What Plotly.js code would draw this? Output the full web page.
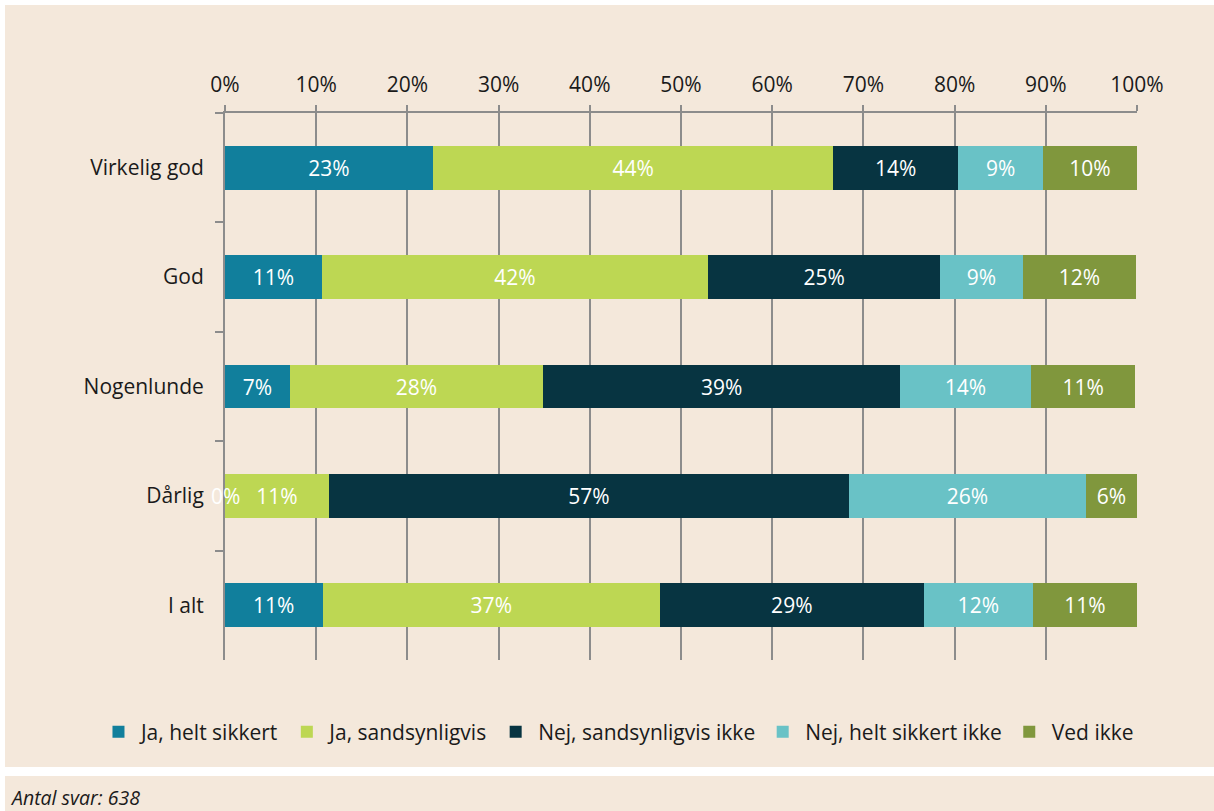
<!DOCTYPE html>
<html>
<head>
<meta charset="utf-8">
<script src="https://cdn.plot.ly/plotly-3.0.1.min.js"></script>
<style>
  html, body { margin: 0; padding: 0; background: #ffffff; }
  #chart { width: 1214px; height: 811px; }
</style>
</head>
<body>
<div id="chart"></div>
<script>
// Categories (top to bottom)
const categories = ["Virkelig god", "God", "Nogenlunde", "Dårlig", "I alt"];

// Series values (percent)
const jaHeltSikkert        = [22.8, 10.6, 7.1, 0.0, 10.7];
const jaSandsynligvis      = [43.9, 42.4, 27.8, 11.4, 37.0];
const nejSandsynligvisIkke = [13.7, 25.4, 39.1, 57.0, 28.9];
const nejHeltSikkertIkke   = [9.3, 9.1, 14.4, 26.0, 12.0];
const vedIkke              = [10.3, 12.4, 11.4, 5.6, 11.4];

const seriesNames = ["Ja, helt sikkert", "Ja, sandsynligvis", "Nej, sandsynligvis ikke", "Nej, helt sikkert ikke", "Ved ikke"];
const seriesValues = [jaHeltSikkert, jaSandsynligvis, nejSandsynligvisIkke, nejHeltSikkertIkke, vedIkke];
const seriesColors = ["#117f9c", "#bdd753", "#073441", "#69c2c6", "#80973d"];

// Tick labels
const xTickVals = [0, 10, 20, 30, 40, 50, 60, 70, 80, 90, 100];
const xTickText = ["0%", "10%", "20%", "30%", "40%", "50%", "60%", "70%", "80%", "90%", "100%"];

const FONT = "'Open Sans', 'Noto Sans', sans-serif";
const FS = 21;

const traces = seriesValues.map((vals, i) => ({
  type: "bar",
  orientation: "h",
  name: seriesNames[i],
  y: categories,
  x: vals,
  text: vals.map(v => Math.round(v) + "%"),
  textposition: "inside",
  insidetextanchor: "middle",
  textangle: 0,
  insidetextfont: { color: "#ffffff", size: FS, family: FONT },
  constraintext: "none",
  hoverinfo: "name+text",
  marker: { color: seriesColors[i], line: { width: 0 } }
}));

// Labels for zero-width segments (drawn at their data position)
const annotations = [];
seriesValues.forEach((vals, i) => {
  vals.forEach((v, j) => {
    if (v === 0) {
      let start = 0;
      for (let k = 0; k < i; k++) start += seriesValues[k][j];
      annotations.push({
        x: start, y: categories[j], xref: "x", yref: "y",
        text: Math.round(v) + "%", showarrow: false,
        font: { color: "#ffffff", size: FS, family: FONT },
        xanchor: "center", yanchor: "middle"
      });
    }
  });
});
annotations.push({
  xref: "paper", yref: "paper", x: 0.0025, y: -0.252,
  xanchor: "left", yanchor: "middle",
  text: "<i>Antal svar: 638</i>", showarrow: false,
  font: { size: 19.5, color: "#1a1a1a", family: FONT }
});

const layout = {
  width: 1214, height: 811,
  paper_bgcolor: "#ffffff",
  plot_bgcolor: "rgba(0,0,0,0)",
  margin: { l: 5, r: 0, t: 113, b: 151, pad: 0, autoexpand: false },
  barmode: "stack",
  bargap: 0.6,
  font: { family: FONT, size: FS, color: "#1a1a1a" },
  showlegend: true,
  legend: {
    orientation: "h",
    x: 0.5066, xanchor: "center",
    y: -0.1316, yanchor: "middle",
    itemwidth: 35,
    font: { size: 21, color: "#1a1a1a", family: FONT },
    traceorder: "normal",
    bgcolor: "rgba(0,0,0,0)"
  },
  xaxis: {
    domain: [0.18197, 0.93631],
    side: "top",
    range: [0, 100],
    tickvals: xTickVals,
    ticktext: xTickText,
    showgrid: true,
    gridcolor: "#8c8c8c",
    gridwidth: 2,
    zeroline: false,
    showline: true,
    linecolor: "#8c8c8c",
    linewidth: 2,
    ticks: "outside",
    ticklen: 6,
    tickwidth: 2,
    tickcolor: "#8c8c8c",
    ticklabelstandoff: 5,
    tickfont: { size: FS, color: "#1a1a1a", family: FONT },
    fixedrange: true
  },
  yaxis: {
    type: "category",
    categoryorder: "array",
    categoryarray: categories,
    autorange: "reversed",
    showgrid: false,
    zeroline: false,
    showline: true,
    linecolor: "#8c8c8c",
    linewidth: 2,
    ticks: "outside",
    tickson: "boundaries",
    ticklen: 8,
    tickwidth: 2,
    tickcolor: "#8c8c8c",
    ticklabelstandoff: 15,
    tickfont: { size: FS, color: "#1a1a1a", family: FONT },
    fixedrange: true
  },
  shapes: [
    { type: "rect", xref: "paper", yref: "paper", layer: "below",
      x0: 0, x1: 1, y0: -0.1956, y1: 1.1974,
      fillcolor: "#f4e8db", line: { width: 0 } },
    { type: "rect", xref: "paper", yref: "paper", layer: "below",
      x0: 0, x1: 1, y0: -0.2761, y1: -0.2121,
      fillcolor: "#f4e8db", line: { width: 0 } }
  ],
  annotations: annotations
};

Plotly.newPlot("chart", traces, layout, { displayModeBar: false, staticPlot: true });
</script>
</body>
</html>
